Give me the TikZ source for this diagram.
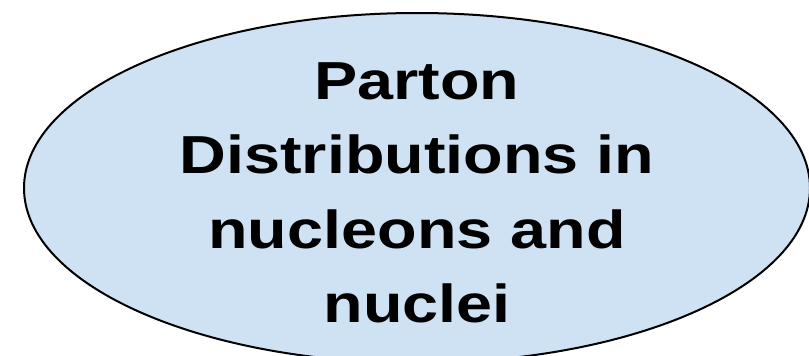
\documentclass[tikz,border=0pt]{standalone}
\usepackage{fontspec}
\setmainfont{Liberation Sans}[FakeStretch=1.21]
\usepackage{tikz}
\usetikzlibrary{shapes.geometric}

\definecolor{paleblue}{HTML}{CFE2F3}

\begin{document}
\begin{tikzpicture}[x=1pt,y=-1pt,
        main node/.style={ellipse,draw,line width=2pt,fill=paleblue,
          minimum width=786pt,minimum height=350pt,inner sep=0pt},
        label node/.style={align=center,inner sep=0pt,
          font=\fontsize{53.5}{74.5}\selectfont\bfseries}]

      \path[use as bounding box,clip] (0,0) rectangle (809,356);

      \node[main node] (pdf) at (417,188) {};
      \node[label node] (title) at (417,193)
        {Parton\\Distributions in\\nucleons and\\nuclei};
      \end{tikzpicture}
\end{document}
